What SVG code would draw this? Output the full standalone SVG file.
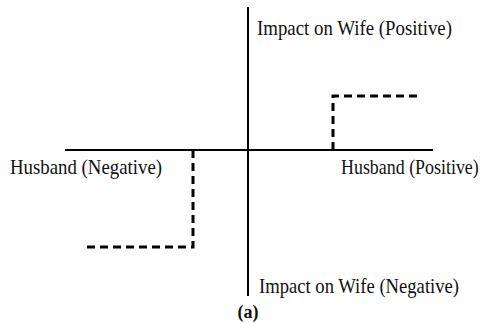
<svg xmlns="http://www.w3.org/2000/svg" width="488" height="324" viewBox="0 0 488 324">
<style>
.axis{stroke:#000;stroke-width:2;fill:none}
.dash{stroke:#000;stroke-width:3;fill:none;stroke-dasharray:8 5}
text{font-family:"Liberation Serif","Times New Roman",serif;font-size:21px;fill:#111}
</style>
<rect width="488" height="324" fill="#fff"/>
<g id="connectors">
<line class="axis" x1="248" y1="7" x2="248" y2="296"/>
<line class="axis" x1="65" y1="150" x2="433" y2="150"/>
<polyline class="dash" points="333,150 333,96 418,96"/>
<polyline class="dash" points="193,150 193,247 85,247"/>
</g>
<g id="wife-positive"><text x="257" y="35" textLength="195" lengthAdjust="spacingAndGlyphs">Impact on Wife (Positive)</text></g>
<g id="husband-negative"><text x="10" y="174" textLength="152" lengthAdjust="spacingAndGlyphs">Husband (Negative)</text></g>
<g id="husband-positive"><text transform="translate(341,174) scale(0.83,1)" x="0" y="0" textLength="166" lengthAdjust="spacingAndGlyphs">Husband (Positive)</text></g>
<g id="wife-negative"><text x="259" y="293" textLength="200" lengthAdjust="spacingAndGlyphs">Impact on Wife (Negative)</text></g>
<g id="caption"><text x="248" y="318" text-anchor="middle" font-weight="bold" style="font-size:18px">(a)</text></g>
</svg>
